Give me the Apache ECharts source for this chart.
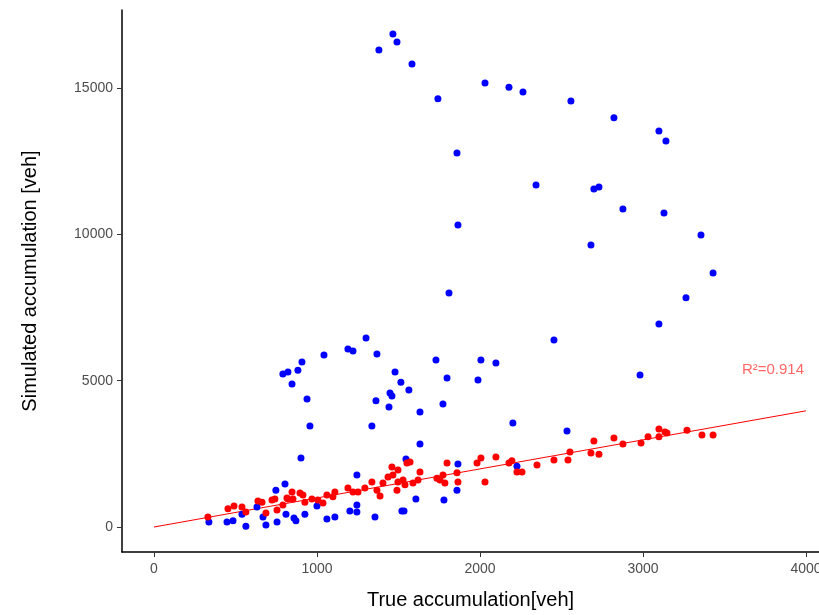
<!DOCTYPE html>
<html>
<head>
<meta charset="utf-8">
<script src="https://cdn.jsdelivr.net/npm/echarts@6/dist/echarts.min.js"></script>
<style>
  html, body { margin: 0; padding: 0; background: #fff; }
  #chart { width: 819px; height: 615px; }
</style>
</head>
<body>
<div id="chart"></div>
<script>
// Simulated vs. true accumulation, before calibration (blue) and after (red)
const xTicks = [0, 1000, 2000, 3000, 4000];
const yTicks = [0, 5000, 10000, 15000];

const uncalibrated = [
  [1466,16850],[1491,16570],[1380,16300],[1583,15820],[1742,14630],[1859,12780],
  [1865,10320],[2031,15170],[2178,15030],[2264,14860],[2558,14560],[2822,13980],
  [3098,13530],[3141,13190],[2344,11690],[2699,11550],[2730,11620],[2877,10870],
  [3129,10730],[3356,9980],[2681,9640],[3430,8680],[1810,8000],[3264,7830],
  [3098,6940],[2454,6390],[2006,5710],[2098,5600],[1798,5090],[1988,5020],
  [2982,5190],[1773,4200],[2202,3550],[2534,3280],[1865,2150],[2227,2080],
  [1859,1260],[1779,920],[1301,6460],[1043,5880],[1190,6080],[1221,6010],
  [1368,5910],[908,5640],[883,5360],[791,5230],[822,5300],[847,4890],
  [1479,5300],[1515,4950],[1564,4680],[1448,4580],[1460,4480],[1362,4310],
  [1442,4100],[1730,5710],[1632,3930],[939,4370],[957,3450],[1337,3450],
  [1632,2840],[902,2360],[1546,2320],[1245,1780],[804,1470],[748,1260],
  [1607,960],[337,170],[448,170],[485,210],[564,30],[687,70],[755,170],
  [810,440],[859,310],[871,210],[926,440],[1061,270],[1110,340],[1202,550],
  [1245,750],[1245,510],[1356,340],[1000,720],[1521,550],[1534,550],
  [632,680],[540,440],[669,340]
];

const calibrated = [
  [331,340],[454,620],[491,720],[540,680],[564,510],[638,890],[663,850],
  [687,480],[724,920],[742,960],[755,580],[791,750],[816,990],[847,1200],
  [822,960],[853,960],[896,1160],[914,1090],[926,850],[969,960],[1006,920],
  [1037,820],[1061,1090],[1098,1030],[1110,1200],[1190,1330],[1221,1200],
  [1252,1200],[1294,1330],[1337,1540],[1368,1260],[1387,1060],[1405,1500],
  [1436,1710],[1460,2050],[1497,1950],[1466,1780],[1497,1540],[1491,1260],
  [1528,1610],[1552,2190],[1571,2220],[1540,1440],[1589,1500],[1632,1880],
  [1620,1610],[1736,1670],[1773,1780],[1798,2190],[1785,1500],[1859,1850],
  [1865,1540],[1755,1610],[1982,2190],[2006,2360],[2031,1540],[2098,2390],
  [2178,2190],[2196,2260],[2227,1880],[2258,1880],[2350,2120],[2454,2290],
  [2540,2290],[2552,2560],[2681,2530],[2699,2940],[2730,2490],[2822,3040],
  [2877,2840],[2988,2870],[3031,3080],[3098,3350],[3098,3080],[3135,3250],
  [3147,3210],[3270,3310],[3362,3140],[3430,3140]
];

// Fitted line for the calibrated points
const fitLine = [[0, 0], [4000, 3970]];
const fitLabel = 'R\u00b2=0.914';
const fitLabelAt = [3607, 5370];

const chart = echarts.init(document.getElementById('chart'), null, { renderer: 'canvas' });

const font = 'Liberation Sans, Arial, Helvetica, sans-serif';

chart.setOption({
  animation: false,
  backgroundColor: '#ffffff',
  grid: { left: 122, top: 10, right: 0, bottom: 63, containLabel: false, outerBoundsMode: 'none' },
  xAxis: {
    type: 'value',
    min: -196,
    max: 4080,
    splitLine: { show: false },
    axisLine: { show: true, onZero: false, lineStyle: { color: '#000', width: 1.5 } },
    axisTick: { show: true, customValues: xTicks, length: 5, lineStyle: { color: '#333', width: 1 } },
    axisLabel: { customValues: xTicks, color: '#4d4d4d', fontSize: 14, fontFamily: font, margin: 10, formatter: v => String(v) },
    name: 'True accumulation[veh]',
    nameLocation: 'middle',
    nameGap: 38,
    nameTextStyle: { color: '#000', fontSize: 20, fontFamily: font }
  },
  yAxis: {
    type: 'value',
    min: -854,
    max: 17666,
    splitLine: { show: false },
    axisLine: { show: true, onZero: false, lineStyle: { color: '#000', width: 1.5 } },
    axisTick: { show: true, customValues: yTicks, length: 5, lineStyle: { color: '#333', width: 1 } },
    axisLabel: { customValues: yTicks, color: '#4d4d4d', fontSize: 14, fontFamily: font, margin: 9, formatter: v => String(v) },
    name: 'Simulated accumulation [veh]',
    nameLocation: 'middle',
    nameGap: 82,
    nameTextStyle: { color: '#000', fontSize: 20, fontFamily: font }
  },
  series: [
    {
      type: 'line',
      data: fitLine,
      showSymbol: false,
      symbol: 'none',
      lineStyle: { color: '#ff0000', width: 1 },
      z: 1
    },
    {
      type: 'scatter',
      data: uncalibrated,
      symbolSize: 7,
      itemStyle: { color: '#0000ff', opacity: 1 },
      z: 2
    },
    {
      type: 'scatter',
      data: calibrated,
      symbolSize: 7,
      itemStyle: { color: '#ff0000', opacity: 1 },
      z: 3
    },
    {
      type: 'scatter',
      data: [fitLabelAt],
      symbolSize: 0,
      silent: true,
      label: {
        show: true,
        position: 'right',
        distance: 0,
        formatter: fitLabel,
        color: '#ff4040',
        fontSize: 15,
        fontFamily: font
      },
      z: 4
    }
  ]
});
</script>
</body>
</html>
